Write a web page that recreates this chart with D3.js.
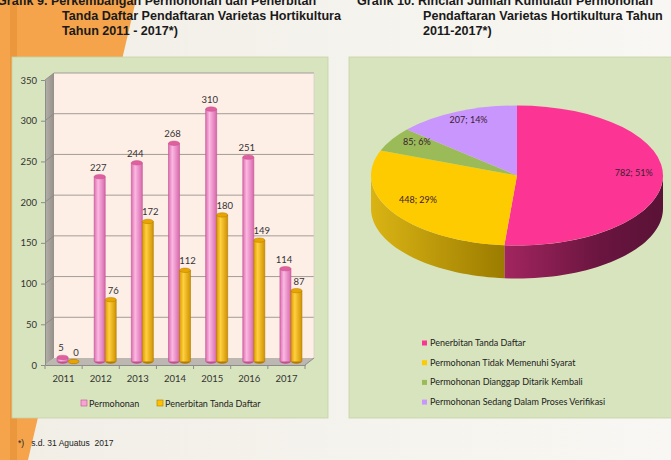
<!DOCTYPE html>
<html>
<head>
<meta charset="utf-8">
<script src="https://cdn.jsdelivr.net/npm/d3@7"></script>
<style>
  body { margin: 0; background: #f4f2ec; }
  svg { display: block; }
</style>
</head>
<body>
<div id="chart"></div>
<script>
// data
var years = ["2011", "2012", "2013", "2014", "2015", "2016", "2017"];
var permohonan = [5, 227, 244, 268, 310, 251, 114];
var penerbitan = [0, 76, 172, 112, 180, 149, 87];
var barSeries = ["Permohonan", "Penerbitan Tanda Daftar"];
var yTicks = [0, 50, 100, 150, 200, 250, 300, 350];

var pieLabels = ["Penerbitan Tanda Daftar", "Permohonan Tidak Memenuhi Syarat",
  "Permohonan Dianggap Ditarik Kembali", "Permohonan Sedang Dalam Proses Verifikasi"];
var pieValues = [782, 448, 85, 207];

var titleLeft = ["Grafik 9.  Perkembangan Permohonan dan Penerbitan",
  "Tanda Daftar Pendaftaran Varietas Hortikultura", "Tahun 2011 - 2017*)"];
var titleRight = ["Grafik 10.  Rincian Jumlah Kumulatif Permohonan",
  "Pendaftaran Varietas Hortikultura Tahun", "2011-2017*)"];
var footnote = "*)   s.d. 31 Aguatus  2017";

var svgWidth = 671;
var svgHeight = 460;

var svg = d3.select("#chart")
  .append("svg")
  .attr("width", svgWidth)
  .attr("height", svgHeight);

var defs = svg.append("defs");

function hGrad(id, stops) {
  var g = defs.append("linearGradient").attr("id", id)
    .attr("x1", "0%").attr("x2", "100%").attr("y1", "0%").attr("y2", "0%");
  stops.forEach(s => g.append("stop").attr("offset", s[0]).attr("stop-color", s[1]));
}
hGrad("pinkBar", [["0%", "#dc6fb0"], ["35%", "#fbb8e2"], ["100%", "#d768ad"]]);
hGrad("goldBar", [["0%", "#dc9c00"], ["35%", "#ffd040"], ["100%", "#d09200"]]);
hGrad("sideWall", [["0%", "#b5b0aa"], ["100%", "#948f89"]]);
hGrad("pinkSide", [["0%", "#a2255f"], ["60%", "#6a1540"], ["100%", "#5a1236"]]);
hGrad("goldSide", [["0%", "#dab414"], ["100%", "#9c7c00"]]);
hGrad("pageBg", [["0%", "#f1eee6"], ["100%", "#f8f7f3"]]);

// page background
svg.append("rect").attr("width", svgWidth).attr("height", svgHeight).attr("fill", "url(#pageBg)");
svg.append("polygon").attr("points", "0,0 136,0 28,460 0,460").attr("fill", "#f5a44b");
svg.append("rect").attr("x", 10).attr("y", 0).attr("width", 7).attr("height", svgHeight)
  .attr("fill", "#e58f36").attr("opacity", 0.6);

// panels
svg.append("rect").attr("x", 12).attr("y", 57).attr("width", 316).attr("height", 361)
  .attr("fill", "#d8e4bd").attr("stroke", "#c6d3a9").attr("stroke-width", 0.8);
svg.append("rect").attr("x", 349).attr("y", 57).attr("width", 330).attr("height", 361)
  .attr("fill", "#d8e4bd").attr("stroke", "#c6d3a9").attr("stroke-width", 0.8);

// ---------- bar chart ----------
var x = d3.scaleBand().domain(years).range([45, 305]);
var y = d3.scaleLinear().domain([0, 350]).range([365, 80]);
var xs = d3.scaleBand().domain(barSeries).range([-6.5, 15.5]);
var dx = 9, dy = -7;
var x0 = x.range()[0], x1 = x.range()[1];

var chartGroup = svg.append("g");

// walls and floor
chartGroup.append("polygon")
  .attr("points", [[x0, y(350)], [x0 + dx, y(350) + dy], [x0 + dx, y(0) + dy], [x0, y(0)]].join(" "))
  .attr("fill", "url(#sideWall)");
chartGroup.append("rect")
  .attr("x", x0 + dx).attr("y", y(350) + dy)
  .attr("width", x1 - x0).attr("height", y(0) - y(350))
  .attr("fill", "#fdeee6");
chartGroup.append("polygon")
  .attr("points", [[x0, y(0)], [x1, y(0)], [x1 + dx, y(0) + dy], [x0 + dx, y(0) + dy]].join(" "))
  .attr("fill", "#bcb7b1");

// gridlines
yTicks.filter(t => t > 0).forEach(function(t) {
  chartGroup.append("line")
    .attr("x1", x0 + dx).attr("x2", x1 + dx)
    .attr("y1", y(t) + dy).attr("y2", y(t) + dy)
    .attr("stroke", "#a39d97").attr("stroke-width", 1);
  chartGroup.append("line")
    .attr("x1", x0).attr("x2", x0 + dx)
    .attr("y1", y(t)).attr("y2", y(t) + dy)
    .attr("stroke", "#8a857f").attr("stroke-width", 0.8);
});
chartGroup.append("line")
  .attr("x1", x1 + dx).attr("x2", x1 + dx)
  .attr("y1", y(350) + dy).attr("y2", y(0) + dy)
  .attr("stroke", "#d8cfc8").attr("stroke-width", 0.8);

// y axis
var leftAxis = chartGroup.append("g")
  .attr("transform", `translate(${x0}, 0)`)
  .call(d3.axisLeft(y).tickValues(yTicks).tickSize(4).tickSizeOuter(0));
leftAxis.select(".domain").attr("stroke", "#8c8c8c");
leftAxis.selectAll(".tick line").attr("stroke", "#8c8c8c");
leftAxis.selectAll("text")
  .attr("font-family", "Lato").attr("font-size", "9.5px").attr("fill", "#333")
  .attr("x", -8);

// x axis
var bottomAxis = chartGroup.append("g")
  .attr("transform", `translate(0, ${y(0)})`)
  .call(d3.axisBottom(x).tickSize(0).tickPadding(10));
bottomAxis.select(".domain").attr("stroke", "#8c8c8c");
bottomAxis.selectAll("text")
  .attr("font-family", "Lato").attr("font-size", "9.5px").attr("fill", "#333");
chartGroup.append("line")
  .attr("x1", x1).attr("x2", x1 + dx)
  .attr("y1", y(0)).attr("y2", y(0) + dy)
  .attr("stroke", "#8c8c8c");
years.concat(["end"]).forEach(function(yr, i) {
  var bx = x0 + i * x.step();
  chartGroup.append("line")
    .attr("x1", bx).attr("x2", bx)
    .attr("y1", y(0)).attr("y2", y(0) + 4)
    .attr("stroke", "#8c8c8c");
});

// cylinders
var barColors = {
  "Permohonan": { body: "url(#pinkBar)", top: "#e0609e", edge: "#c2508e", legend: "#f7a3d6" },
  "Penerbitan Tanda Daftar": { body: "url(#goldBar)", top: "#e8a400", edge: "#b07c00", legend: "#ffc000" }
};
var barValues = { "Permohonan": permohonan, "Penerbitan Tanda Daftar": penerbitan };
var bw = xs.bandwidth();

barSeries.forEach(function(s, si) {
  years.forEach(function(yr, i) {
    var v = barValues[s][i];
    var cx = x(yr) + x.bandwidth() / 2 + xs(s) + bw / 2;
    var top = y(v) - 3.5, base = y(0) - 3.5;
    var c = barColors[s];
    var g = chartGroup.append("g");
    g.append("ellipse").attr("cx", cx).attr("cy", base).attr("rx", bw / 2).attr("ry", 2.2)
      .attr("fill", c.edge);
    g.append("rect").attr("x", cx - bw / 2).attr("y", top).attr("width", bw).attr("height", base - top)
      .attr("fill", c.body);
    g.append("ellipse").attr("cx", cx).attr("cy", top).attr("rx", bw / 2).attr("ry", 2.2)
      .attr("fill", c.top).attr("stroke", c.edge).attr("stroke-width", 0.5);
    g.append("line").attr("x1", cx - bw / 2).attr("x2", cx - bw / 2).attr("y1", top).attr("y2", base)
      .attr("stroke", c.edge).attr("stroke-width", 0.6);
    g.append("line").attr("x1", cx + bw / 2).attr("x2", cx + bw / 2).attr("y1", top).attr("y2", base)
      .attr("stroke", c.edge).attr("stroke-width", 0.6);

    chartGroup.append("text")
      .attr("x", cx + (si === 0 ? -1.5 : 2.5))
      .attr("y", top - 6)
      .attr("text-anchor", "middle")
      .attr("font-family", "Lato").attr("font-size", "9.5px").attr("fill", "#333")
      .text(v);
  });
});

// bar legend
var legendX = [81, 157];
barSeries.forEach(function(s, i) {
  svg.append("rect").attr("x", legendX[i]).attr("y", 400).attr("width", 6).attr("height", 6)
    .attr("fill", barColors[s].legend).attr("stroke", barColors[s].edge).attr("stroke-width", 0.6);
  svg.append("text").attr("x", legendX[i] + 8).attr("y", 406.5)
    .attr("font-family", "Lato").attr("font-size", "9px").attr("fill", "#222")
    .text(s);
});

// ---------- 3D pie ----------
var pcx = 517, pcy = 175.5, rx = 146, ry = 70, depth = 33;
var pieColors = ["#fc3594", "#fecb00", "#9bbb59", "#c996fd"];
var sideFills = ["url(#pinkSide)", "url(#goldSide)", "#6f8a3c", "#8f66c0"];
var total = d3.sum(pieValues);
var arcs = d3.pie().sort(null).value(d => d)(pieValues);

function ept(a, dyOff) {
  return [pcx + rx * Math.sin(a), pcy - ry * Math.cos(a) + dyOff];
}

var pieGroup = svg.append("g");

// side walls (front half only)
arcs.forEach(function(a, i) {
  var s = Math.max(a.startAngle, Math.PI / 2), e = Math.min(a.endAngle, 3 * Math.PI / 2);
  if (s >= e) return;
  var steps = d3.range(0, 41).map(k => s + (e - s) * k / 40);
  var pts = steps.map(t => ept(t, 0)).concat(steps.slice().reverse().map(t => ept(t, depth)));
  pieGroup.append("path")
    .attr("d", d3.line()(pts) + "Z")
    .attr("fill", sideFills[i]);
});

// top face
var arcGen = d3.arc().innerRadius(0).outerRadius(rx);
pieGroup.append("g")
  .attr("transform", `translate(${pcx}, ${pcy}) scale(1, ${ry / rx})`)
  .selectAll("path")
  .data(arcs)
  .enter()
  .append("path")
  .attr("d", arcGen)
  .attr("fill", (d, i) => pieColors[i]);

// slice labels
arcs.forEach(function(a, i) {
  var mid = (a.startAngle + a.endAngle) / 2;
  var p = [pcx + rx * 0.8 * Math.sin(mid), pcy - ry * 0.8 * Math.cos(mid) - 5];
  pieGroup.append("text")
    .attr("x", p[0]).attr("y", p[1] + 3)
    .attr("text-anchor", "middle")
    .attr("font-family", "Lato").attr("font-size", "9px").attr("fill", "#3a2030")
    .text(`${a.data}; ${Math.round(a.data / total * 100)}%`);
});

// pie legend
pieLabels.forEach(function(l, i) {
  var ly = 343 + i * 19.7;
  svg.append("rect").attr("x", 422).attr("y", ly - 2.5).attr("width", 5).attr("height", 5)
    .attr("fill", pieColors[i]);
  svg.append("text").attr("x", 430).attr("y", ly + 3)
    .attr("font-family", "Lato").attr("font-size", "9px").attr("fill", "#222")
    .text(l);
});

// ---------- titles ----------
function titleBlock(lines, firstX, restX) {
  lines.forEach(function(t, i) {
    svg.append("text")
      .attr("x", i === 0 ? firstX : restX)
      .attr("y", 5 + i * 15)
      .attr("font-family", "Liberation Sans, Arial").attr("font-weight", "bold")
      .attr("font-size", "12.6px").attr("fill", "#1a1a1a")
      .text(t);
  });
}
titleBlock(titleLeft, -3, 62);
titleBlock(titleRight, 357, 423);

svg.append("text").attr("x", 18).attr("y", 446)
  .attr("font-family", "Liberation Sans, Arial").attr("font-size", "8.5px").attr("fill", "#222")
  .attr("xml:space", "preserve").style("white-space", "pre")
  .text(footnote);
</script>
</body>
</html>
